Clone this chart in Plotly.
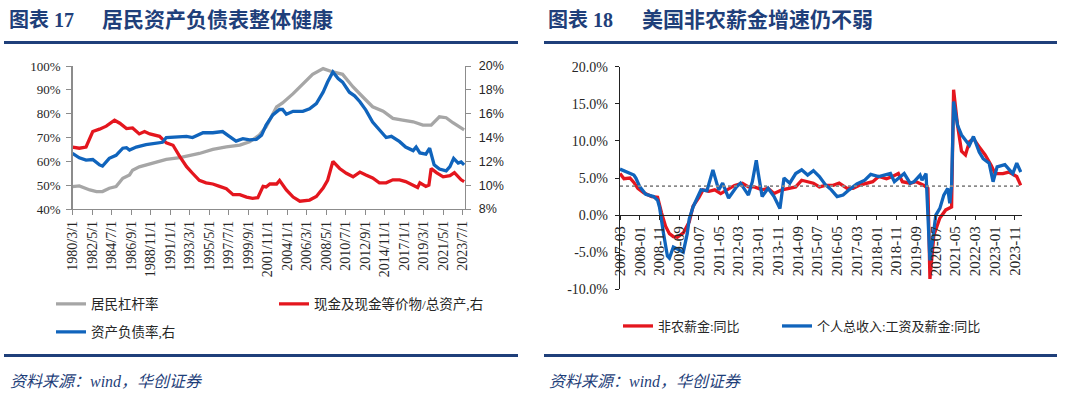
import plotly.graph_objects as go

# ---------------- data: left chart (居民资产负债表) ----------------
lev_dates = ["1980-03", "1980-12", "1982-02", "1982-11", "1983-07", "1984-04", "1985-01", "1985-10",
             "1986-07", "1986-11", "1987-08", "1988-05", "1989-07", "1990-08", "1992-02", "1992-11",
             "1994-04", "1995-10", "1997-04", "1998-10", "1999-11", "2000-12", "2001-09", "2002-11",
             "2003-07", "2004-09", "2005-06", "2006-11", "2008-01", "2009-02", "2010-03", "2011-05",
             "2012-06", "2013-07", "2014-09", "2015-10", "2016-11", "2018-01", "2019-02", "2020-01",
             "2020-12", "2021-09", "2022-06", "2023-07", "2023-09"]
lev_vals = [49.4, 49.7, 48.0, 47.3, 47.3, 48.7, 49.4, 52.9,
            54.3, 56.3, 57.7, 58.4, 59.8, 60.8, 61.6, 62.2,
            63.3, 65.0, 66.1, 66.8, 68.2, 71.0, 74.5, 82.8,
            84.5, 88.4, 91.2, 96.5, 98.9, 97.5, 96.5, 91.2,
            87.0, 82.9, 81.0, 78.0, 77.3, 76.6, 75.2, 75.2,
            78.7, 78.3, 76.2, 73.4, 73.2]

cash_dates = ["1980-03", "1980-12", "1981-09", "1982-06", "1983-03", "1983-12", "1984-11", "1985-06",
              "1986-03", "1986-11", "1987-08", "1988-03", "1988-10", "1989-11", "1990-08", "1991-05",
              "1992-02", "1992-11", "1993-07", "1994-04", "1995-01", "1995-10", "1996-07", "1997-04",
              "1998-01", "1998-10", "1999-07", "2000-03", "2000-10", "2001-05", "2001-09", "2002-02",
              "2002-11", "2003-03", "2003-12", "2004-09", "2005-06", "2006-07", "2007-04", "2008-01",
              "2008-07", "2009-02", "2009-11", "2010-08", "2011-05", "2012-02", "2012-10", "2013-07",
              "2014-04", "2015-01", "2015-10", "2016-07", "2017-03", "2018-01", "2018-07", "2018-10",
              "2019-06", "2019-10", "2020-01", "2020-08", "2021-05", "2022-02", "2022-08", "2023-05",
              "2023-09"]
cash_vals = [13.2, 13.1, 13.2, 14.5, 14.7, 14.95, 15.45, 15.2,
             14.75, 14.8, 14.3, 14.5, 14.3, 14.1, 13.55, 13.35,
             12.4, 11.55, 11.0, 10.4, 10.2, 10.1, 9.9, 9.7,
             9.2, 9.2, 9.0, 8.9, 8.95, 9.9, 9.85, 10.1,
             10.1, 10.4, 9.6, 9.0, 8.65, 8.75, 9.05, 9.75,
             10.4, 12.0, 11.4, 11.0, 10.7, 11.1, 10.85, 10.6,
             10.2, 10.2, 10.45, 10.45, 10.3, 10.0, 9.8, 10.2,
             9.9, 10.0, 11.4, 11.05, 10.7, 10.8, 11.05, 10.45,
             10.3]

debt_dates = ["1980-03", "1980-12", "1981-09", "1982-06", "1983-03", "1983-07", "1984-04", "1985-01",
              "1985-10", "1986-03", "1986-07", "1987-04", "1988-05", "1989-07", "1990-03", "1990-08",
              "1991-09", "1992-11", "1993-07", "1994-09", "1995-10", "1996-11", "1997-08", "1998-05",
              "1999-02", "1999-11", "2000-08", "2001-03", "2001-09", "2002-06", "2003-03", "2003-07",
              "2003-12", "2004-09", "2005-10", "2006-07", "2007-04", "2008-01", "2008-07", "2009-02",
              "2009-09", "2010-03", "2010-12", "2011-07", "2012-02", "2012-10", "2013-07", "2014-04",
              "2015-01", "2015-08", "2016-07", "2017-03", "2018-01", "2018-05", "2018-10", "2019-06",
              "2019-11", "2020-05", "2020-12", "2021-09", "2022-02", "2022-07", "2023-01", "2023-05",
              "2023-09"]
debt_vals = [12.67, 12.3, 12.1, 12.15, 11.7, 11.6, 12.25, 12.5,
             13.1, 13.15, 12.95, 13.2, 13.4, 13.55, 13.6, 14.0,
             14.05, 14.1, 14.0, 14.4, 14.4, 14.5, 14.1, 13.7,
             13.9, 13.8, 13.85, 14.2, 15.05, 15.9, 16.35, 16.35,
             15.95, 16.2, 16.2, 16.4, 16.85, 17.8, 18.65, 19.5,
             18.95, 18.65, 17.8, 17.5, 17.0, 16.3, 15.3, 14.6,
             14.0, 14.1, 13.65, 13.2, 12.9, 13.2, 12.7, 12.6,
             13.1, 11.7, 11.35, 11.2, 11.55, 12.25, 11.85, 11.95,
             11.7]

# ---------------- data: right chart (美国非农薪金) ----------------
nfp_dates = ["2007-03", "2007-05", "2007-08", "2007-10", "2007-12", "2008-03", "2008-07", "2008-10",
             "2008-12", "2009-02", "2009-04", "2009-06", "2009-08", "2009-11", "2010-02", "2010-04",
             "2010-07", "2010-09", "2010-12", "2011-03", "2011-06", "2011-10", "2012-01", "2012-05",
             "2012-08", "2012-11", "2013-03", "2013-06", "2013-09", "2014-01", "2014-04", "2014-08",
             "2014-11", "2015-02", "2015-05", "2015-08", "2015-11", "2016-03", "2016-06", "2016-10",
             "2017-01", "2017-04", "2017-08", "2017-11", "2018-02", "2018-06", "2018-09", "2018-12",
             "2019-02", "2019-06", "2019-09", "2020-01", "2020-03", "2020-04", "2020-06", "2020-09",
             "2020-12", "2021-02", "2021-03", "2021-04", "2021-06", "2021-08", "2021-10", "2021-12",
             "2022-02", "2022-05", "2022-08", "2022-11", "2023-01", "2023-05", "2023-08", "2023-12",
             "2024-02"]
nfp_vals = [5.6, 4.9, 5.0, 4.4, 3.6, 3.0, 2.5, 2.4,
            0.3, -1.5, -2.5, -2.9, -3.0, -2.4, -0.9, 1.2,
            2.4, 3.4, 3.2, 3.4, 2.9, 3.6, 4.0, 4.3,
            3.8, 3.8, 3.4, 3.6, 2.9, 3.4, 3.6, 3.8,
            4.7, 4.5, 4.3, 3.8, 4.0, 4.0, 4.3, 3.6,
            3.6, 4.0, 4.3, 4.5, 5.2, 4.9, 5.2, 5.6,
            4.5, 4.3, 4.5, 4.0, 3.6, -8.6, -2.7, -0.4,
            0.7, 0.9, 1.1, 16.9, 12.1, 8.6, 8.1, 9.9,
            10.3, 9.2, 8.1, 6.7, 5.6, 5.6, 5.8, 5.2,
            4.0]

inc_dates = ["2007-03", "2007-07", "2007-10", "2007-11", "2008-01", "2008-04", "2008-08", "2008-10",
             "2008-11", "2009-01", "2009-03", "2009-04", "2009-06", "2009-09", "2009-11", "2010-01",
             "2010-02", "2010-04", "2010-08", "2010-11", "2011-02", "2011-05", "2011-07", "2011-10",
             "2012-02", "2012-04", "2012-08", "2012-10", "2012-12", "2013-01", "2013-03", "2013-06",
             "2013-09", "2013-12", "2014-02", "2014-05", "2014-08", "2014-11", "2015-02", "2015-05",
             "2015-08", "2015-11", "2016-02", "2016-05", "2016-08", "2016-11", "2017-03", "2017-07",
             "2017-10", "2018-02", "2018-05", "2018-08", "2018-10", "2019-01", "2019-03", "2019-06",
             "2019-08", "2019-11", "2019-12", "2020-02", "2020-04", "2020-07", "2020-09", "2020-11",
             "2021-01", "2021-02", "2021-03", "2021-04", "2021-06", "2021-08", "2021-12", "2022-02",
             "2022-05", "2022-07", "2022-10", "2022-12", "2023-02", "2023-06", "2023-10", "2023-12",
             "2024-02"]
inc_vals = [6.2, 5.8, 5.4, 5.0, 3.8, 2.8, 2.5, 2.0,
            1.0, -2.5, -5.5, -5.8, -4.3, -4.7, -5.0, -2.5,
            -0.5, 1.1, 3.4, 3.3, 6.1, 3.4, 4.3, 2.3,
            3.8, 4.3, 2.7, 4.5, 7.4, 5.6, 2.5, 3.6,
            2.5, 0.9, 5.0, 4.3, 5.6, 6.1, 5.4, 6.0,
            5.2, 4.1, 3.4, 2.5, 2.7, 3.4, 4.2, 4.7,
            5.5, 5.2, 5.4, 5.6, 4.5, 5.2, 5.6, 4.3,
            4.5, 5.4, 4.7, 5.6, -6.1, 0.0, 0.9, 2.7,
            3.6, 1.6, 4.0, 15.3, 12.1, 10.8, 9.4, 10.6,
            8.5, 7.6, 7.0, 4.5, 6.5, 6.8, 5.6, 7.0,
            5.8]
ref_level = 3.9   # dotted reference line, %

right_y_ticks = [-10, -5, 0, 5, 10, 15, 20]
right_y_text = ["-10.0%", "-5.0%", "0.0%", "5.0%", "10.0%", "15.0%", "20.0%"]

# ---------------- styling ----------------
W, H = 1080, 393
GRAY = "#a6a6a6"
RED = "#e4161e"
BLUE = "#1064bc"
NAVY = "#1f3f7a"
TXT = "#262626"
SERIF = "Liberation Serif, Noto Sans CJK SC"
CJK = "Liberation Serif, Noto Sans CJK SC"


def px(x):
    return x / W


def py(y):
    return 1 - y / H


fig = go.Figure()
lw = 3.3
fig.add_trace(go.Scatter(x=lev_dates, y=lev_vals, name="居民杠杆率", mode="lines",
                         line=dict(color=GRAY, width=lw), xaxis="x", yaxis="y", legend="legend"))
fig.add_trace(go.Scatter(x=cash_dates, y=cash_vals, name="现金及现金等价物/总资产,右", mode="lines",
                         line=dict(color=RED, width=lw), xaxis="x", yaxis="y2", legend="legend2"))
fig.add_trace(go.Scatter(x=debt_dates, y=debt_vals, name="资产负债率,右", mode="lines",
                         line=dict(color=BLUE, width=lw), xaxis="x", yaxis="y2", legend="legend3"))
fig.add_trace(go.Scatter(x=nfp_dates, y=nfp_vals, name="非农薪金:同比", mode="lines",
                         line=dict(color=RED, width=lw), xaxis="x2", yaxis="y3", legend="legend4"))
fig.add_trace(go.Scatter(x=inc_dates, y=inc_vals, name="个人总收入:工资及薪金:同比", mode="lines",
                         line=dict(color=BLUE, width=lw), xaxis="x2", yaxis="y3", legend="legend5"))

# right chart y domain, used to put the x axis on the zero line
y3_dom = [py(289.3), py(66.7)]
y3_rng = [-10, 20]
zero_pos = y3_dom[0] + (0 - y3_rng[0]) / (y3_rng[1] - y3_rng[0]) * (y3_dom[1] - y3_dom[0])

axis_gray = "#8c8c8c"


def leg(x, y, size):
    return dict(x=px(x), y=py(y), xanchor="left", yanchor="middle", orientation="h",
                bgcolor="rgba(0,0,0,0)", font=dict(family=CJK, size=size, color=TXT), itemwidth=30)


fig.update_layout(
    width=W, height=H, margin=dict(l=0, r=0, t=0, b=0, pad=0, autoexpand=False),
    paper_bgcolor="white", plot_bgcolor="white",
    xaxis=dict(domain=[px(72.5), px(465)], anchor="y", type="date",
               range=["1980-03-01", "2023-10-05"], tick0="1980-03-01", dtick="M26",
               tickformat="%Y/%-m/%-d", tickangle=-90, ticks="outside", ticklen=5,
               tickcolor=axis_gray, showline=True, linecolor=axis_gray, linewidth=1.3,
               showgrid=False, zeroline=False, automargin=False,
               tickfont=dict(family=SERIF, size=14, color=TXT)),
    yaxis=dict(domain=[py(209), py(66)], anchor="x", range=[40, 100], dtick=10,
               ticksuffix="%", ticks="outside", ticklen=5, tickcolor=axis_gray,
               showline=True, linecolor=axis_gray, linewidth=1.3, showgrid=False, zeroline=False,
               automargin=False,
               tickfont=dict(family=SERIF, size=13, color=TXT), ticklabelstandoff=3),
    yaxis2=dict(overlaying="y", side="right", anchor="x", range=[8, 20], dtick=2,
                ticksuffix="%", ticks="outside", ticklen=5, tickcolor=axis_gray,
                showline=True, linecolor=axis_gray, linewidth=1.3, showgrid=False, zeroline=False,
                automargin=False,
                tickfont=dict(family="Liberation Sans", size=12.5, color=TXT), ticklabelstandoff=5),
    xaxis2=dict(domain=[px(620), px(1022)], anchor="free", position=zero_pos, type="date",
                range=["2007-03-01", "2024-02-20"], tick0="2007-03-01", dtick="M10",
                tickformat="%Y-%m", tickangle=-90, ticks="outside", ticklen=4,
                tickcolor="#222", showline=True, linecolor="#222", linewidth=1.2,
                showgrid=False, zeroline=False, automargin=False,
                tickfont=dict(family=SERIF, size=15, color=TXT)),
    yaxis3=dict(domain=y3_dom, anchor="x2", range=y3_rng, tickvals=right_y_ticks,
                ticktext=right_y_text, ticks="outside", ticklen=4, tickcolor="#222",
                showline=True, linecolor="#222", linewidth=1.2, showgrid=False, zeroline=False,
                automargin=False,
                tickfont=dict(family=SERIF, size=14, color=TXT), ticklabelstandoff=4),
    legend=leg(51, 304, 13.5),
    legend2=leg(274, 304, 13.5),
    legend3=leg(51, 332, 13.5),
    legend4=leg(618, 326, 13),
    legend5=leg(777, 326, 13),
    showlegend=True,
)

# dotted reference line on the right chart
fig.add_shape(type="line", xref="x2 domain", yref="y3", x0=0, x1=1, y0=ref_level, y1=ref_level,
              line=dict(color="#8a8a8a", width=1.8, dash="dot"))

# header / footer rules
for x0, x1 in [(4, 518), (544, 1057)]:
    for yy in (42.5, 355.5):
        fig.add_shape(type="line", xref="paper", yref="paper", x0=px(x0), x1=px(x1),
                      y0=py(yy), y1=py(yy), line=dict(color=NAVY, width=3))

num_font = dict(family="Liberation Serif, Noto Sans CJK SC", size=20, color=NAVY)
head_font = dict(family="Liberation Serif, Noto Sans CJK SC", size=21, color=NAVY)
titles = [(7, "<b>图表 17</b>", num_font), (100, "<b>居民资产负债表整体健康</b>", head_font),
          (546, "<b>图表 18</b>", num_font), (640, "<b>美国非农薪金增速仍不弱</b>", head_font)]
for x, t, f in titles:
    fig.add_annotation(text=t, xref="paper", yref="paper", x=px(x), y=py(20),
                       xanchor="left", yanchor="middle", showarrow=False, font=f)

src_font = dict(family="Liberation Serif, Noto Sans CJK SC", size=16, color=NAVY, style="italic")
for x in (8, 547):
    fig.add_annotation(text="资料来源：wind，华创证券", xref="paper", yref="paper", x=px(x), y=py(381),
                       xanchor="left", yanchor="middle", showarrow=False, font=src_font)

fig.write_html("out.html", config={"displayModeBar": False, "staticPlot": True},
               post_script="document.body.style.margin='0px';document.body.style.overflow='hidden';")
